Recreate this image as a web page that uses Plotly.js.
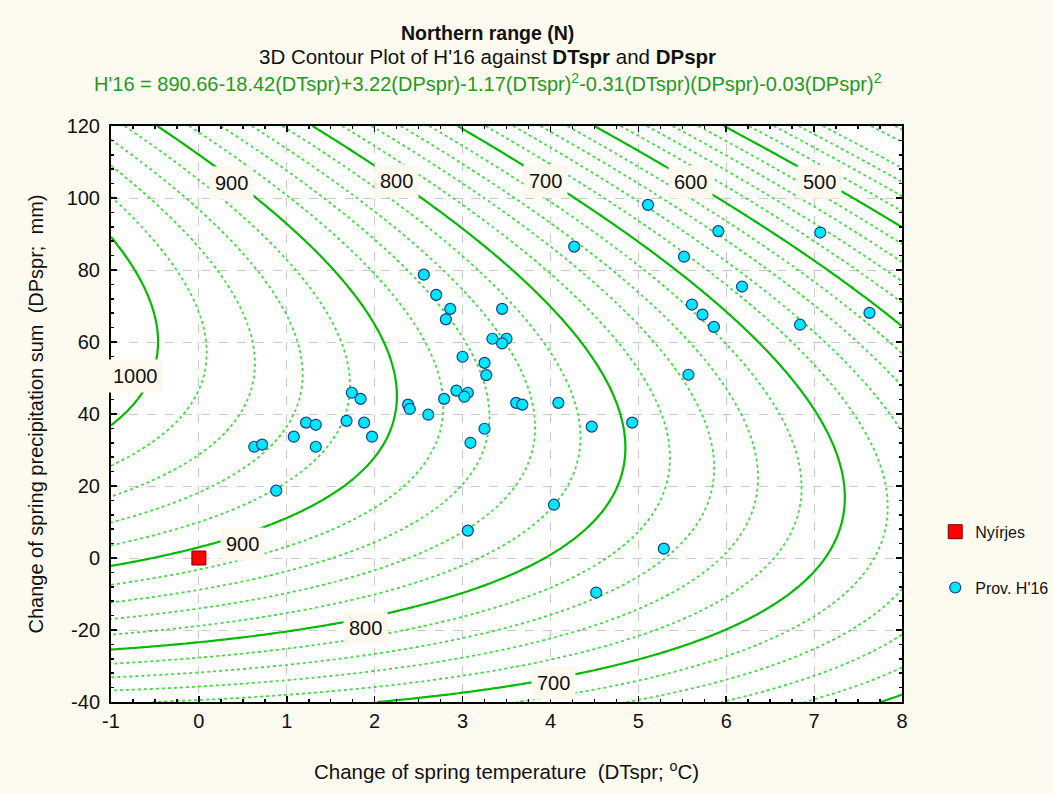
<!DOCTYPE html>
<html>
<head>
<meta charset="utf-8">
<script src="https://cdn.plot.ly/plotly-3.0.1.min.js"></script>
<style>html,body{margin:0;padding:0;background:#fdfaf0;}#chart{width:1053px;height:794px;}</style>
</head>
<body>
<div id="chart"></div>
<script>
// H'16 = c0 + c1*DT + c2*DP + c3*DT^2 + c4*DT*DP + c5*DP^2
const surfaceCoef = [890.66, -18.42, 3.22, -1.17, -0.31, -0.028];
const gridDT = [-1, 8];      // temperature extent of the surface
const gridDP = [-40, 120];   // precipitation extent of the surface
const majorLevels = [500, 600, 700, 800, 900, 1000];
const contourLabels = ['900', '800', '700', '600', '500', '1000', '900', '800', '700'];

// Provenance points (Prov. H'16)
const provDT = [0.63,0.72,0.88,1.08,1.22,1.33,1.33,1.68,1.74,1.84,1.88,1.97,2.38,2.40,2.61,2.79,2.93,3.06,3.02,
  2.56,2.70,2.86,2.81,3.00,3.45,3.34,3.50,3.45,3.25,3.27,3.61,3.68,4.09,3.25,3.09,4.47,4.93,5.57,5.52,5.61,5.73,
  5.86,4.27,5.11,5.91,6.18,6.84,7.07,7.63,4.04,3.06,5.29,4.52];
const provDP = [30.9,31.5,18.7,33.7,37.6,37.0,30.9,38.1,45.9,44.2,37.6,33.7,42.6,41.4,39.8,44.2,46.5,45.9,44.8,
  78.7,73.1,69.2,66.3,55.9,69.2,60.9,60.9,59.6,54.2,50.8,43.1,42.6,43.1,35.9,32.0,36.5,37.6,50.9,83.7,70.4,67.6,
  64.2,86.5,98.1,90.8,75.4,64.8,90.4,68.1,14.8,7.6,2.6,-9.6];

// Nyírjes site
const siteDT = [0];
const siteDP = [0];

const xTicks = [-1,0,1,2,3,4,5,6,7,8];
const yTicks = [-40,-20,0,20,40,60,80,100,120];

// surface grid
const gx = [], gy = [], gz = [];
const nx = 181, ny = 161;
for (let i = 0; i < nx; i++) gx.push(gridDT[0] + (gridDT[1]-gridDT[0]) * i/(nx-1));
for (let j = 0; j < ny; j++) gy.push(gridDP[0] + (gridDP[1]-gridDP[0]) * j/(ny-1));
const c = surfaceCoef;
for (let j = 0; j < ny; j++) {
  const row = [];
  for (let i = 0; i < nx; i++) {
    const x = gx[i], y = gy[j];
    row.push(c[0] + c[1]*x + c[2]*y + c[3]*x*x + c[4]*x*y + c[5]*y*y);
  }
  gz.push(row);
}

const traces = [];
// dotted minor contours (every 20, skipping the 100s)
[20,40,60,80].forEach(off => {
  traces.push({
    type: 'contour', x: gx, y: gy, z: gz, showscale: false, hoverinfo: 'skip', showlegend: false,
    contours: {coloring: 'none', start: 300 + off, end: 1100 + off, size: 100, showlabels: false},
    line: {color: '#44d944', width: 1.8, dash: 'dot', smoothing: 0.8}
  });
});
// solid major contours
traces.push({
  type: 'contour', x: gx, y: gy, z: gz, showscale: false, hoverinfo: 'skip', showlegend: false,
  contours: {coloring: 'none', start: majorLevels[0], end: majorLevels[majorLevels.length-1], size: 100, showlabels: false},
  line: {color: '#00bb00', width: 2.2, smoothing: 0.8}
});
traces.push({
  type: 'scatter', mode: 'markers', x: siteDT, y: siteDP, name: 'Nyírjes', legendgroup: 'a',
  marker: {symbol: 'square', size: 14, color: '#ff0000', line: {color: '#7a0000', width: 1}}
});
traces.push({
  type: 'scatter', mode: 'markers', x: provDT, y: provDP, name: "Prov. H'16", legendgroup: 'b',
  marker: {symbol: 'circle', size: 11, color: '#00e8f8', line: {color: '#1a3c8c', width: 1.2}}
});

const F = 'Liberation Sans, Arial, sans-serif';
const axisCommon = {
  showline: true, linecolor: '#000', linewidth: 2, mirror: 'allticks',
  ticks: 'inside', ticklen: 6, tickwidth: 1.5, tickcolor: '#000',
  showgrid: true, gridcolor: '#c8c8c8', griddash: 'dash', gridwidth: 1,
  zeroline: false, tickfont: {family: F, size: 20, color: '#111'},
};

// contour label placement (data coordinates of label centres)
const labelPos = [[0.37,104.2],[2.25,104.7],[3.94,104.7],[5.59,104.4],[7.06,104.4],[-0.72,50.6],[0.50,3.9],[1.90,-19.4],[4.03,-34.7]];
const labelAnns = contourLabels.map((t, k) => ({
  text: t, x: labelPos[k][0], y: labelPos[k][1], xref: 'x', yref: 'y', showarrow: false,
  xanchor: 'center', yanchor: 'middle', bgcolor: '#fdf9ee', borderpad: 5,
  font: {family: F, size: 20, color: '#111'}
}));

const layout = {
  width: 1053, height: 794,
  paper_bgcolor: '#fdfaf0', plot_bgcolor: '#ffffff',
  margin: {l: 111, r: 151, t: 126, b: 92, autoexpand: false},
  showlegend: true,
  legend: {x: 1.042, xanchor: 'left', y: 0.325, yanchor: 'top', bgcolor: 'rgba(0,0,0,0)',
    font: {family: F, size: 16, color: '#111'}, tracegroupgap: 32},
  xaxis: Object.assign({}, axisCommon, {
    range: [gridDT[0], gridDT[1]], tickvals: xTicks, ticktext: xTicks.map(String),
    minor: {dtick: 0.25, ticks: 'inside', ticklen: 3, tickcolor: '#000', showgrid: false},
    title: {text: 'Change of spring temperature\u00a0\u00a0(DTspr; <sup>o</sup>C)', font: {family: F, size: 20.5, color: '#111'}, standoff: 34}
  }),
  yaxis: Object.assign({}, axisCommon, {
    range: [gridDP[0], gridDP[1]], tickvals: yTicks, ticktext: yTicks.map(String), ticklabelstandoff: 5,
    minor: {dtick: 4, ticks: 'inside', ticklen: 3, tickcolor: '#000', showgrid: false},
    title: {text: 'Change of spring precipitation sum\u00a0\u00a0(DPspr;\u00a0\u00a0mm)', font: {family: F, size: 20, color: '#111'}, standoff: 18}
  }),
  annotations: [
    {text: '<b>Northern range (N)</b>', xref: 'paper', yref: 'paper', x: 0.4766, y: (702-33)/576, showarrow: false,
     xanchor: 'center', yanchor: 'middle', font: {family: F, size: 19.5, color: '#111'}},
    {text: "3D Contour Plot of H'16 against <b>DTspr</b> and <b>DPspr</b>", xref: 'paper', yref: 'paper', x: 0.4766, y: (702-57)/576, showarrow: false,
     xanchor: 'center', yanchor: 'middle', font: {family: F, size: 20.5, color: '#111'}},
    {text: "H'16 = 890.66-18.42(DTspr)+3.22(DPspr)-1.17(DTspr)<sup>2</sup>-0.31(DTspr)(DPspr)-0.03(DPspr)<sup>2</sup>", xref: 'paper', yref: 'paper', x: 0.4766, y: (702-82)/576, showarrow: false,
     xanchor: 'center', yanchor: 'middle', font: {family: F, size: 20, color: '#1f9a1f'}}
  ].concat(labelAnns)
};

Plotly.newPlot('chart', traces, layout, {displayModeBar: false, staticPlot: true});
</script>
</body>
</html>
